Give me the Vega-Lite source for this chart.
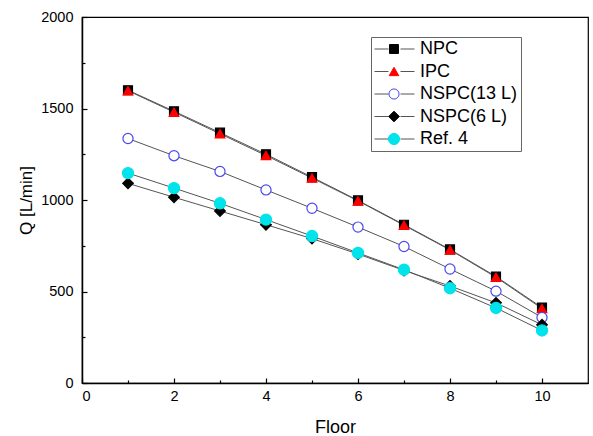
{
  "$schema": "https://vega.github.io/schema/vega-lite/v6.json",
  "width": 506,
  "height": 366,
  "autosize": {"type": "none"},
  "padding": {"left": 82, "top": 17, "right": 5, "bottom": 53},
  "background": "white",
  "config": {
    "font": "Liberation Sans",
    "view": {"stroke": "black", "strokeWidth": 1.2},
    "axis": {"grid": false, "domainColor": "black", "domainWidth": 1.5, "tickColor": "black", "tickWidth": 1.2, "labelColor": "black", "titleColor": "black", "labelFont": "Liberation Sans", "titleFont": "Liberation Sans", "titleFontWeight": "normal"},
    "legend": {"labelFont": "Liberation Sans"}
  },
  "data": {
    "values": [
      {"floor": 1, "series": "NPC", "q": 1600}, {"floor": 2, "series": "NPC", "q": 1485}, {"floor": 3, "series": "NPC", "q": 1368}, {"floor": 4, "series": "NPC", "q": 1250}, {"floor": 5, "series": "NPC", "q": 1125}, {"floor": 6, "series": "NPC", "q": 998}, {"floor": 7, "series": "NPC", "q": 865}, {"floor": 8, "series": "NPC", "q": 730}, {"floor": 9, "series": "NPC", "q": 582}, {"floor": 10, "series": "NPC", "q": 412},
      {"floor": 1, "series": "IPC", "q": 1597}, {"floor": 2, "series": "IPC", "q": 1480}, {"floor": 3, "series": "IPC", "q": 1362}, {"floor": 4, "series": "IPC", "q": 1243}, {"floor": 5, "series": "IPC", "q": 1120}, {"floor": 6, "series": "IPC", "q": 995}, {"floor": 7, "series": "IPC", "q": 862}, {"floor": 8, "series": "IPC", "q": 727}, {"floor": 9, "series": "IPC", "q": 578}, {"floor": 10, "series": "IPC", "q": 407},
      {"floor": 1, "series": "NSPC(13 L)", "q": 1336}, {"floor": 2, "series": "NSPC(13 L)", "q": 1242}, {"floor": 3, "series": "NSPC(13 L)", "q": 1156}, {"floor": 4, "series": "NSPC(13 L)", "q": 1055}, {"floor": 5, "series": "NSPC(13 L)", "q": 955}, {"floor": 6, "series": "NSPC(13 L)", "q": 852}, {"floor": 7, "series": "NSPC(13 L)", "q": 746}, {"floor": 8, "series": "NSPC(13 L)", "q": 623}, {"floor": 9, "series": "NSPC(13 L)", "q": 502}, {"floor": 10, "series": "NSPC(13 L)", "q": 358},
      {"floor": 1, "series": "NSPC(6 L)", "q": 1091}, {"floor": 2, "series": "NSPC(6 L)", "q": 1015}, {"floor": 3, "series": "NSPC(6 L)", "q": 940}, {"floor": 4, "series": "NSPC(6 L)", "q": 865}, {"floor": 5, "series": "NSPC(6 L)", "q": 789}, {"floor": 6, "series": "NSPC(6 L)", "q": 705}, {"floor": 7, "series": "NSPC(6 L)", "q": 615}, {"floor": 8, "series": "NSPC(6 L)", "q": 530}, {"floor": 9, "series": "NSPC(6 L)", "q": 438}, {"floor": 10, "series": "NSPC(6 L)", "q": 318},
      {"floor": 1, "series": "Ref. 4", "q": 1147}, {"floor": 2, "series": "Ref. 4", "q": 1065}, {"floor": 3, "series": "Ref. 4", "q": 982}, {"floor": 4, "series": "Ref. 4", "q": 893}, {"floor": 5, "series": "Ref. 4", "q": 803}, {"floor": 6, "series": "Ref. 4", "q": 711}, {"floor": 7, "series": "Ref. 4", "q": 619}, {"floor": 8, "series": "Ref. 4", "q": 518}, {"floor": 9, "series": "Ref. 4", "q": 410}, {"floor": 10, "series": "Ref. 4", "q": 287}
    ]
  },
  "resolve": {"axis": {"x": "independent", "y": "independent"}},
  "layer": [
    {
      "mark": {"type": "line", "color": "#555555", "strokeWidth": 1},
      "encoding": {
        "x": {"field": "floor", "type": "quantitative", "scale": {"domain": [0, 11], "nice": false, "zero": false},
              "axis": {"orient": "bottom", "values": [1, 3, 5, 7, 9], "labels": false, "domain": false, "tickSize": -3, "title": null}},
        "y": {"field": "q", "type": "quantitative", "scale": {"domain": [0, 2000], "nice": false},
              "axis": {"orient": "left", "values": [250, 750, 1250, 1750], "labels": false, "domain": false, "tickSize": -3, "title": null}},
        "detail": {"field": "series"},
        "opacity": {"field": "series", "type": "nominal", "sort": ["NPC", "IPC", "NSPC(13 L)", "NSPC(6 L)", "Ref. 4"],
          "scale": {"range": [1, 1, 1, 1, 1]},
          "legend": {"title": null, "orient": "none", "legendX": 289, "legendY": 20, "padding": 3,
            "strokeColor": "#666666", "fillColor": null, "symbolType": "M-4,0H-1.2M1.2,0H4", "symbolSize": 100,
            "symbolOffset": 11.5, "symbolStrokeWidth": 1, "symbolStrokeColor": "#555555", "labelFontSize": 18, "labelColor": "black",
            "labelOffset": 16.5, "rowPadding": 4.5, "labelLimit": 300}}
      }
    },
    {
      "mark": {"type": "point", "strokeWidth": 1.2, "opacity": 1},
      "encoding": {
        "x": {"field": "floor", "type": "quantitative",
              "axis": {"orient": "bottom", "values": [0, 2, 4, 6, 8, 10], "format": "d", "tickSize": -5, "labelPadding": 11, "labelFontSize": 14.5, "title": "Floor", "titleFontSize": 18, "titleY": 44, "titleBaseline": "middle"}},
        "y": {"field": "q", "type": "quantitative",
              "axis": {"orient": "left", "values": [0, 500, 1000, 1500, 2000], "format": "d", "tickSize": -5, "labelPadding": 14, "labelFontSize": 14.5, "title": "Q [L/min]", "titleFontSize": 17, "titleX": -56, "titleBaseline": "middle"}},
        "shape": {"field": "series", "type": "nominal",
          "scale": {"domain": ["NPC", "IPC", "NSPC(13 L)", "NSPC(6 L)", "Ref. 4"], "range": ["square", "triangle-up", "circle", "diamond", "circle"]},
          "legend": {"title": null, "orient": "none", "legendX": 303, "legendY": 23, "padding": 0,
            "labelFontSize": 18, "labelColor": "transparent", "labelExpr": "' '", "labelOffset": 5, "rowPadding": 4.5, "symbolStrokeWidth": 1, "labelLimit": 300}},
        "size": {"field": "series", "type": "nominal",
          "scale": {"domain": ["NPC", "IPC", "NSPC(13 L)", "NSPC(6 L)", "Ref. 4"], "range": [80, 125, 90, 110, 100]}},
        "fill": {"field": "series", "type": "nominal",
          "scale": {"domain": ["NPC", "IPC", "NSPC(13 L)", "NSPC(6 L)", "Ref. 4"], "range": ["#000000", "#ff0000", "#ffffff", "#000000", "#00e3ea"]}},
        "stroke": {"field": "series", "type": "nominal",
          "scale": {"domain": ["NPC", "IPC", "NSPC(13 L)", "NSPC(6 L)", "Ref. 4"], "range": ["#000000", "#ff0000", "#4848f0", "#000000", "#00e3ea"]}}
      }
    }
  ]
}
